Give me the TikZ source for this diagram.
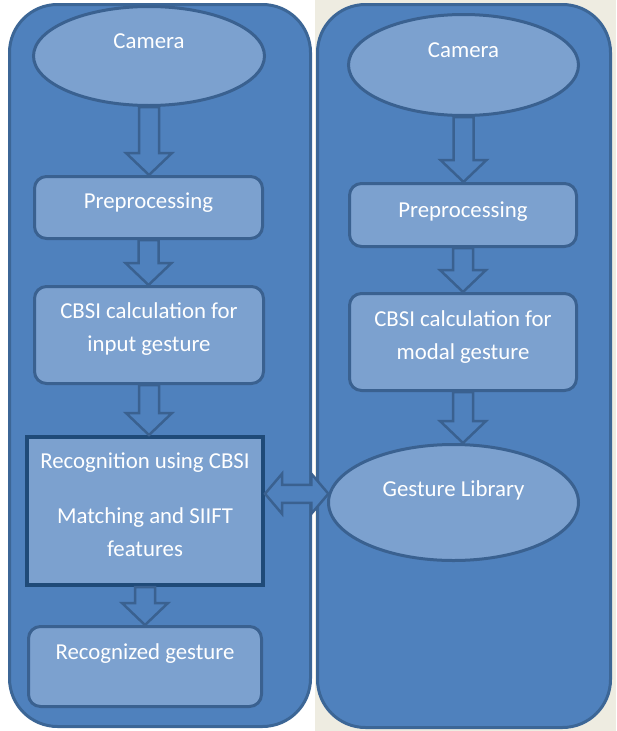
\documentclass[tikz,border=0pt]{standalone}
\usepackage{fontspec}
\setmainfont{Carlito}
\usepackage{tikz}
\usetikzlibrary{calc,shapes.geometric}
\definecolor{paper}{HTML}{EEECE1}
\definecolor{panel}{HTML}{4F81BD}
\definecolor{panelline}{HTML}{3C6696}
\definecolor{inner}{HTML}{7CA1CF}
\definecolor{innerline}{HTML}{3A6190}
\definecolor{darkline}{HTML}{1F4A78}

\begin{document}
\begin{tikzpicture}[
x=1pt, y=-1pt,
panelbox/.style={draw=panelline, fill=panel, line width=3pt, rounded corners=48pt, inner sep=0pt},
roundbox/.style={draw=innerline, fill=inner, line width=3pt, rounded corners=12pt, inner sep=0pt},
squarebox/.style={draw=darkline, fill=inner, line width=4pt, inner sep=0pt},
oval/.style={ellipse, draw=innerline, fill=inner, line width=3pt, inner sep=0pt},
txt/.style={text=white, font=\fontsize{22.8}{33}\selectfont, align=center},
downblock/.style={draw=innerline, fill=panel, line width=2.5pt, line join=miter,
  to path={let \p1=(\tikztostart), \p2=(\tikztotarget) in
    (\x1-10pt,\y1) -- (\x1+10pt,\y1) -- (\x1+10pt,\y2+22pt) -- (\x1+23pt,\y2+22pt)
    -- (\x1,\y2) -- (\x1-23pt,\y2+22pt) -- (\x1-10pt,\y2+22pt) -- cycle}},
sideblock/.style={draw=innerline, fill=panel, line width=2.5pt, line join=miter,
  to path={let \p1=(\tikztostart), \p2=(\tikztotarget) in
    (\x1,\y2) -- (\x1+17pt,\y2+20pt) -- (\x1+17pt,\y2+9pt) -- (\x2-17pt,\y2+9pt)
    -- (\x2-17pt,\y2+20pt) -- (\x2,\y2) -- (\x2-17pt,\y2-20pt) -- (\x2-17pt,\y2-9pt)
    -- (\x1+17pt,\y2-9pt) -- (\x1+17pt,\y2-20pt) -- cycle}}
]
% page
\useasboundingbox (0,0) rectangle (616,731);
\fill[white] (0,0) rectangle (315,731);
\fill[paper] (315,0) rectangle (616,731);

% the two columns
\node[panelbox, minimum width=301pt, minimum height=722pt] (left) at (160,365.5) {};
\node[panelbox, minimum width=293pt, minimum height=723pt] (right) at (464,366) {};

% left column
\node[oval, minimum width=231pt, minimum height=99pt,
  label={[txt,yshift=15pt]center:Camera}] (camL) at (149,56) {};
\node[roundbox, minimum width=228pt, minimum height=62pt,
  label={[txt,yshift=5pt]center:Preprocessing}] (prepL) at (148.5,207.5) {};
\node[roundbox, minimum width=229pt, minimum height=97pt,
  label={[txt,yshift=6pt]center:CBSI calculation for\\input gesture}] (cbsiL) at (149,335) {};
\node[squarebox, minimum width=236pt, minimum height=148pt,
  label={[txt,yshift=6pt]center:Recognition using CBSI\\[22pt]Matching and SIIFT\\features}] (recog) at (145,511) {};
\node[roundbox, minimum width=233pt, minimum height=80pt,
  label={[txt,yshift=13pt]center:Recognized gesture}] (result) at (145,666.5) {};

% right column
\node[oval, minimum width=230pt, minimum height=101pt,
  label={[txt,yshift=15pt]center:Camera}] (camR) at (463.5,65) {};
\node[roundbox, minimum width=227pt, minimum height=63pt,
  label={[txt,yshift=3pt]center:Preprocessing}] (prepR) at (463,215) {};
\node[roundbox, minimum width=227pt, minimum height=97pt,
  label={[txt,yshift=5pt]center:CBSI calculation for\\modal gesture}] (cbsiR) at (463,342) {};
\node[oval, minimum width=250pt, minimum height=116pt,
  label={[txt,yshift=12pt]center:Gesture Library}] (lib) at (453.5,502.5) {};

% block arrows
\draw[downblock] (camL.south) to (prepL.north);
\draw[downblock] (prepL.south) to (cbsiL.north);
\draw[downblock] (cbsiL.south) to (recog.north);
\draw[downblock] (recog.south) to (result.north);
\draw[downblock] (camR.south) to (prepR.north);
\draw[downblock] (prepR.south) to (cbsiR.north);
\draw[downblock] (cbsiR.south) to (lib.north);
\draw[sideblock] (recog.east |- lib.176) to (lib.176);
\end{tikzpicture}
\end{document}
